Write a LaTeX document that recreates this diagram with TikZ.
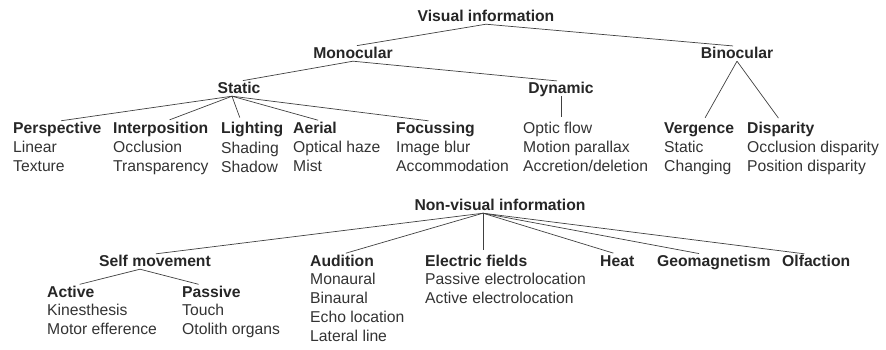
\documentclass[tikz,border=0pt]{standalone}
\usepackage{fontspec}
\setmainfont{Liberation Sans}
\usetikzlibrary{positioning}

\begin{document}
\begin{tikzpicture}[x=1pt,y=-1pt,
    every node/.style={inner sep=0pt, font=\fontsize{15.7}{19}\selectfont, text=black!85},
    head/.style={font=\fontsize{15.7}{19}\selectfont\bfseries, text height=11.5pt, text depth=3pt},
    cue/.style={align=left, anchor=base west, text=black!80},
    branch/.style={draw=black!75, line width=0.7pt, shorten >=4pt}]
    \useasboundingbox (0,0) rectangle (886,349);

    \begin{scope}
    % visual information (cue lists sit on the baseline of their last line)
    \node[head,anchor=base] (vis) at (486,21) {Visual information};
    \node[head,anchor=base] (mono) at (353,58) {Monocular};
    \node[head,anchor=base] (bino) at (737,58) {Binocular};
    \node[head,anchor=base] (static) at (239,93) {Static};
    \node[head,anchor=base] (dyn) at (561,93) {Dynamic};

    \node[head,anchor=base west] (persp) at (13,133) {Perspective};
    \node[head,anchor=base west] (interp) at (113,133) {Interposition};
    \node[head,anchor=base west] (light) at (221,133) {Lighting};
    \node[head,anchor=base west] (aerial) at (293,133) {Aerial};
    \node[head,anchor=base west] (focus) at (396,133) {Focussing};
    \node[head,anchor=base west] (verg) at (664,133) {Vergence};
    \node[head,anchor=base west] (disp) at (747,133) {Disparity};

    \node[cue] (persp-c) at (13,171) {Linear\\Texture};
    \node[cue] (interp-c) at (113,171) {Occlusion\\Transparency};
    \node[cue] (light-c) at (221,172) {Shading\\Shadow};
    \node[cue] (aerial-c) at (293,171) {Optical haze\\Mist};
    \node[cue] (focus-c) at (396,171) {Image blur\\Accommodation};
    \node[cue] (dyn-c) at (523,171) {Optic flow\\Motion parallax\\Accretion/deletion};
    \node[cue] (verg-c) at (664,171) {Static\\Changing};
    \node[cue] (disp-c) at (747,171) {Occlusion disparity\\Position disparity};

    \coordinate (static-fork) at ([xshift=-7pt]static.south);

    \draw[branch] (vis.south) -- (mono.north);
    \draw[branch] (vis.south) -- (bino.north);
    \draw[branch] (mono.south) -- (static.north);
    \draw[branch] (mono.south) -- (dyn.north);
    \foreach \c/\dx in {persp/0,interp/5,light/-11,aerial/7,focus/-3}
        \draw[branch] (static-fork) -- ([xshift=\dx pt]\c.north);
    \draw[branch] (dyn.south) -- (dyn.south |- dyn-c.north);
    \draw[branch] (bino.south) -- ([xshift=4pt]verg.north);
    \draw[branch] (bino.south) -- (disp.north);
    \end{scope}

    \begin{scope}
    % non-visual information
    \node[head,anchor=base] (nonvis) at (500,210) {Non-visual information};
    \node[head,anchor=base] (self) at (155,266) {Self movement};
    \node[head,anchor=base west] (aud) at (310,266) {Audition};
    \node[head,anchor=base west] (elec) at (425,266) {Electric fields};
    \node[head,anchor=base west] (heat) at (600,266) {Heat};
    \node[head,anchor=base west] (geo) at (657,266) {Geomagnetism};
    \node[head,anchor=base west] (olf) at (782,266) {Olfaction};
    \node[head,anchor=base west] (active) at (47,297) {Active};
    \node[head,anchor=base west] (passive) at (182,297) {Passive};

    \node[cue] (aud-c) at (310,341) {Monaural\\Binaural\\Echo location\\Lateral line};
    \node[cue] (elec-c) at (425,303) {Passive electrolocation\\Active electrolocation};
    \node[cue] (active-c) at (47,334) {Kinesthesis\\Motor efference};
    \node[cue] (passive-c) at (182,334) {Touch\\Otolith organs};

    \coordinate (nv-fork) at ([xshift=-17pt]nonvis.south);
    \coordinate (self-fork) at ([xshift=-15pt]self.south);

    \foreach \c/\dx in {self/-3,aud/0,heat/0,geo/-11,olf/-8}
        \draw[branch] (nv-fork) -- ([xshift=\dx pt]\c.north);
    \draw[branch] (nv-fork) -- (nv-fork |- elec.north);
    \draw[branch] (self-fork) -- ([xshift=5pt]active.north);
    \draw[branch] (self-fork) -- ([xshift=-9pt]passive.north);
    \end{scope}
\end{tikzpicture}
\end{document}
